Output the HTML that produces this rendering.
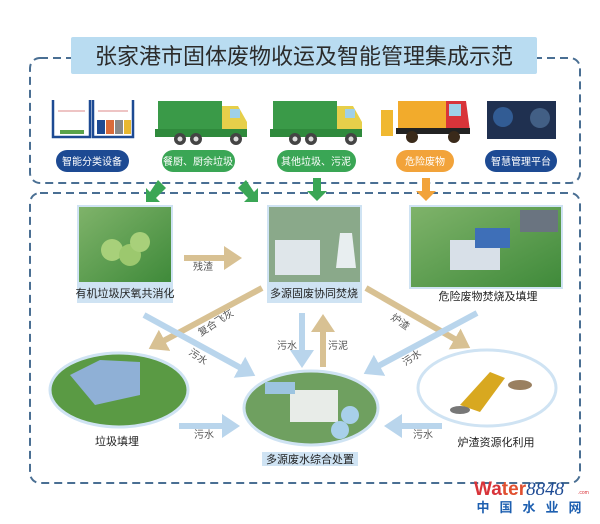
<!DOCTYPE html>
<html><head><meta charset="utf-8"><style>
html,body{margin:0;padding:0;background:#fff;}
svg{display:block;font-family:"Liberation Sans","Noto Sans CJK SC",sans-serif;}
</style></head><body>
<svg width="600" height="524" viewBox="0 0 600 524" xmlns="http://www.w3.org/2000/svg">
<defs>
<marker id="tan" markerWidth="4" markerHeight="4" refX="2" refY="2" orient="auto" markerUnits="strokeWidth"><path d="M0,0 L3,2 L0,4 Z" fill="#d8c193"/></marker>
<marker id="blu" markerWidth="4" markerHeight="4" refX="2" refY="2" orient="auto" markerUnits="strokeWidth"><path d="M0,0 L3,2 L0,4 Z" fill="#b9d5ec"/></marker>
<linearGradient id="grass" x1="0" y1="0" x2="1" y2="1"><stop offset="0" stop-color="#7fb36a"/><stop offset="1" stop-color="#3f8a3a"/></linearGradient>
</defs>
<rect x="30" y="58" width="550" height="125" rx="10" fill="none" stroke="#4a6f93" stroke-width="2" stroke-dasharray="8,5"/>
<rect x="30" y="193" width="550" height="290" rx="10" fill="none" stroke="#4a6f93" stroke-width="2" stroke-dasharray="8,5"/>
<rect x="71" y="37" width="466" height="37" rx="2" fill="#b9dcf1"/>
<text x="304" y="64" font-size="22" text-anchor="middle" fill="#2b2b2b">张家港市固体废物收运及智能管理集成示范</text>
<g stroke="#1d4a93" stroke-width="2.5" fill="none">
<path d="M53,100 V137 H90 V100"/><path d="M93,100 V137 H133 V100"/></g>
<rect x="60" y="130" width="24" height="4" fill="#5aa34a"/>
<rect x="97" y="120" width="8" height="14" fill="#1d4a93"/><rect x="106" y="120" width="8" height="14" fill="#d96b3a"/><rect x="115" y="120" width="8" height="14" fill="#888"/><rect x="124" y="120" width="7" height="14" fill="#e8b830"/>
<line x1="58" y1="111" x2="85" y2="111" stroke="#d88" stroke-width="1"/><line x1="98" y1="111" x2="128" y2="111" stroke="#d88" stroke-width="1"/>
<g id="truck">
<rect x="158" y="101" width="64" height="30" fill="#3a9a48"/>
<path d="M222,106 H238 L247,122 V133 H222 Z" fill="#e6cf4a"/>
<rect x="230" y="109" width="10" height="9" fill="#9fd0e8"/>
<rect x="155" y="129" width="92" height="8" fill="#2f8a3c"/>
<circle cx="180" cy="139" r="6" fill="#444"/><circle cx="196" cy="139" r="6" fill="#444"/><circle cx="236" cy="139" r="6" fill="#444"/>
<circle cx="180" cy="139" r="2.5" fill="#ddd"/><circle cx="196" cy="139" r="2.5" fill="#ddd"/><circle cx="236" cy="139" r="2.5" fill="#ddd"/>
</g>
<use href="#truck" x="115"/>
<rect x="381" y="110" width="12" height="26" fill="#f0b830"/>
<rect x="398" y="101" width="48" height="30" fill="#f2ab2c"/>
<path d="M446,101 H466 L470,131 H446 Z" fill="#d8343a"/><rect x="449" y="104" width="12" height="12" fill="#9fd0e8"/>
<rect x="396" y="128" width="74" height="6" fill="#222"/>
<circle cx="412" cy="137" r="6" fill="#3a2a1a"/><circle cx="454" cy="137" r="6" fill="#3a2a1a"/>
<rect x="487" y="101" width="69" height="38" fill="#1f3050"/>
<circle cx="503" cy="117" r="10" fill="#3a6fb0" opacity=".7"/><circle cx="540" cy="118" r="10" fill="#5a7fa8" opacity=".6"/>
<g font-size="10" fill="#fff" text-anchor="middle">
<rect x="56" y="150" width="73" height="22" rx="11" fill="#1d4a93"/><text x="92" y="165">智能分类设备</text>
<rect x="162" y="150" width="73" height="22" rx="11" fill="#3aa655"/><text x="198" y="165">餐厨、厨余垃圾</text>
<rect x="277" y="150" width="79" height="22" rx="11" fill="#3aa655"/><text x="316" y="165">其他垃圾、污泥</text>
<rect x="396" y="150" width="58" height="22" rx="11" fill="#f2a33a"/><text x="425" y="165">危险废物</text>
<rect x="485" y="150" width="72" height="22" rx="11" fill="#1d4a93"/><text x="521" y="165">智慧管理平台</text>
</g>
<g fill="#3aa655">
<path d="M158,180 L166,188 L156,198 L160,202 L146,202 L146,188 L150,192 Z"/>
<path d="M246,180 L238,188 L248,198 L244,202 L258,202 L258,188 L254,192 Z"/>
<path d="M313,178 H321 V191 H327 L317,201 L307,191 H313 Z"/>
</g>
<path d="M422,178 H430 V191 H436 L426,201 L416,191 H422 Z" fill="#f2a33a"/>
<rect x="77" y="205" width="96" height="98" fill="#cfe3f3"/>
<rect x="79" y="207" width="92" height="75" fill="url(#grass)"/>
<circle cx="112" cy="250" r="11" fill="#a8d07a"/><circle cx="130" cy="255" r="11" fill="#9cc86e"/><circle cx="140" cy="242" r="10" fill="#a8d07a"/>
<text x="125" y="297" font-size="11" text-anchor="middle" fill="#222">有机垃圾厌氧共消化</text>
<rect x="267" y="205" width="95" height="98" fill="#cfe3f3"/>
<rect x="269" y="207" width="91" height="75" fill="#8aa98a"/>
<rect x="275" y="240" width="45" height="35" fill="#dfe6ea"/><path d="M340,233 L352,233 L356,268 L336,268 Z" fill="#e8eef0"/>
<text x="314" y="297" font-size="11" text-anchor="middle" fill="#222">多源固废协同焚烧</text>
<rect x="409" y="205" width="154" height="84" fill="#cfe3f3"/>
<rect x="411" y="207" width="150" height="80" fill="url(#grass)"/>
<rect x="450" y="240" width="50" height="30" fill="#d8e0e8"/><rect x="475" y="228" width="35" height="20" fill="#3e6fb8"/><rect x="520" y="210" width="38" height="22" fill="#6a7480"/>
<text x="488" y="300" font-size="11" text-anchor="middle" fill="#222">危险废物焚烧及填埋</text>
<g stroke-width="6" fill="none">
<line x1="184" y1="258" x2="236" y2="258" stroke="#d8c193" marker-end="url(#tan)"/>
<line x1="262" y1="288" x2="154" y2="346" stroke="#d8c193" marker-end="url(#tan)"/>
<line x1="366" y1="288" x2="465" y2="345" stroke="#d8c193" marker-end="url(#tan)"/>
<line x1="323" y1="367" x2="323" y2="320" stroke="#d8c193" marker-end="url(#tan)"/>
<line x1="144" y1="315" x2="250" y2="373" stroke="#b9d5ec" marker-end="url(#blu)"/>
<line x1="302" y1="313" x2="302" y2="362" stroke="#b9d5ec" marker-end="url(#blu)"/>
<line x1="477" y1="313" x2="369" y2="371" stroke="#b9d5ec" marker-end="url(#blu)"/>
<line x1="179" y1="426" x2="234" y2="426" stroke="#b9d5ec" marker-end="url(#blu)"/>
<line x1="442" y1="426" x2="390" y2="426" stroke="#b9d5ec" marker-end="url(#blu)"/>
</g>
<g font-size="10" fill="#555" text-anchor="middle">
<text x="203" y="270">残渣</text>
<text x="216" y="326" transform="rotate(-33 216 323)">复合飞灰</text>
<text x="198" y="360" transform="rotate(35 198 357)">污水</text>
<text x="287" y="349">污水</text><text x="338" y="349">污泥</text>
<text x="400" y="325" transform="rotate(35 400 322)">炉渣</text>
<text x="412" y="361" transform="rotate(-33 412 358)">污水</text>
<text x="204" y="438">污水</text><text x="423" y="438">污水</text>
</g>
<ellipse cx="119" cy="390" rx="69" ry="37" fill="#5a9a44" stroke="#cfe3f3" stroke-width="3"/>
<path d="M70,375 L100,360 L140,362 L140,395 L95,405 Z" fill="#8fb0d6"/>
<ellipse cx="311" cy="408" rx="67" ry="37" fill="#6fa060" stroke="#cfe3f3" stroke-width="3"/>
<rect x="290" y="390" width="48" height="32" fill="#e8ece8"/><circle cx="350" cy="415" r="9" fill="#a8d0ea"/><circle cx="340" cy="430" r="9" fill="#a8d0ea"/>
<rect x="265" y="382" width="30" height="12" fill="#9cc4e0"/>
<ellipse cx="487" cy="388" rx="69" ry="38" fill="#fff" stroke="#cfe3f3" stroke-width="3"/>
<path d="M460,405 L490,372 L505,378 L480,412 Z" fill="#d8a820"/><ellipse cx="520" cy="385" rx="12" ry="5" fill="#9a8060"/><ellipse cx="460" cy="410" rx="10" ry="4" fill="#777"/>
<g font-size="11" fill="#222" text-anchor="middle">
<text x="117" y="445">垃圾填埋</text><text x="496" y="446">炉渣资源化利用</text>
</g>
<rect x="262" y="452" width="96" height="14" fill="#cfe3f3"/>
<text x="310" y="463" font-size="11" text-anchor="middle" fill="#222">多源废水综合处置</text>
<text x="474" y="495" font-size="19" font-weight="bold" fill="#d8343a">Wa<tspan fill="#e05030">ter</tspan><tspan fill="#1d4a93" font-style="italic" font-weight="normal" font-family="Liberation Serif,serif">8848</tspan></text>
<text x="578" y="494" font-size="5" fill="#d8343a">.com</text>
<text x="534" y="512" font-size="13" font-weight="bold" fill="#1d5fb0" text-anchor="middle" letter-spacing="10">中国水业网</text>
</svg>
</body></html>
